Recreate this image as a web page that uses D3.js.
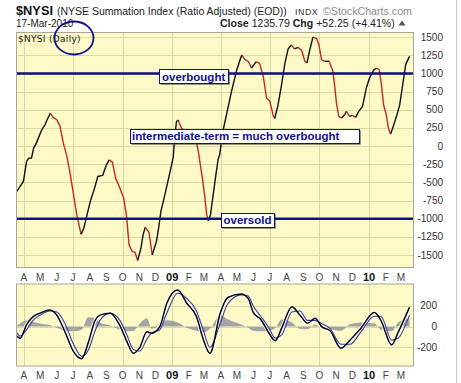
<!DOCTYPE html>
<html><head><meta charset="utf-8">
<script src="https://cdn.jsdelivr.net/npm/d3@7/dist/d3.min.js"></script>
<style>
html,body{margin:0;padding:0;background:#fff;}
svg{display:block;font-family:"Liberation Sans",Arial,sans-serif;}
</style></head>
<body>
<svg id="c" width="461" height="383"></svg>
<script>
// ---------- DATA ----------
const mainDates = ["2008-03-19","2008-03-31","2008-04-06","2008-04-10","2008-04-15","2008-04-19","2008-04-24","2008-05-04","2008-05-10","2008-05-14","2008-05-20","2008-05-25","2008-06-01","2008-06-07","2008-06-13","2008-06-19","2008-06-25","2008-07-01","2008-07-08","2008-07-16","2008-07-21","2008-07-27","2008-08-02","2008-08-10","2008-08-16","2008-08-25","2008-09-01","2008-09-06","2008-09-12","2008-09-18","2008-09-26","2008-10-03","2008-10-08","2008-10-13","2008-10-19","2008-10-24","2008-10-29","2008-11-04","2008-11-08","2008-11-12","2008-11-19","2008-11-25","2008-12-03","2008-12-07","2008-12-11","2008-12-19","2008-12-26","2009-01-03","2009-01-06","2009-01-09","2009-01-12","2009-01-14","2009-01-18","2009-01-26","2009-02-05","2009-02-15","2009-02-19","2009-02-22","2009-02-26","2009-03-02","2009-03-06","2009-03-09","2009-03-13","2009-03-18","2009-03-23","2009-03-27","2009-03-30","2009-04-05","2009-04-13","2009-04-21","2009-04-30","2009-05-06","2009-05-10","2009-05-16","2009-05-22","2009-05-28","2009-06-06","2009-06-12","2009-06-19","2009-06-25","2009-07-01","2009-07-07","2009-07-10","2009-07-16","2009-07-23","2009-07-29","2009-08-04","2009-08-10","2009-08-16","2009-08-22","2009-08-29","2009-09-04","2009-09-08","2009-09-13","2009-09-19","2009-09-26","2009-09-30","2009-10-05","2009-10-11","2009-10-19","2009-10-26","2009-10-29","2009-11-02","2009-11-06","2009-11-11","2009-11-17","2009-11-20","2009-11-26","2009-12-01","2009-12-07","2009-12-13","2009-12-20","2009-12-27","2010-01-02","2010-01-10","2010-01-15","2010-01-20","2010-01-24","2010-01-28","2010-02-02","2010-02-06","2010-02-10","2010-02-14","2010-02-21","2010-02-27","2010-03-05","2010-03-10","2010-03-17"];
const mainValues = [-625,-487,-211,-166,-166,-28,41,225,294,363,455,396,363,271,41,-120,-349,-625,-948,-1214,-1131,-948,-763,-579,-418,-404,-258,-189,-221,-441,-579,-717,-948,-1361,-1453,-1462,-1575,-1407,-1223,-1117,-1190,-1500,-1306,-1120,-900,-650,-420,-150,150,340,359,320,248,200,130,60,-100,-250,-441,-671,-948,-1030,-948,-671,-396,-189,-120,202,478,754,1030,1168,1255,1191,1168,1075,1163,1140,956,658,620,428,380,555,855,1140,1338,1395,1338,1360,1320,1168,1145,1320,1500,1480,1398,1191,1168,1168,1030,846,570,410,386,432,478,410,423,396,478,547,800,938,1052,1076,1052,846,570,432,248,166,248,410,570,869,1122,1236];

const oscDates = ["2008-03-19","2008-03-25","2008-04-06","2008-04-18","2008-05-01","2008-05-19","2008-06-01","2008-06-16","2008-07-02","2008-07-17","2008-07-29","2008-08-11","2008-08-20","2008-09-08","2008-09-26","2008-10-09","2008-10-21","2008-11-02","2008-11-15","2008-11-24","2008-12-09","2008-12-22","2009-01-11","2009-01-28","2009-02-15","2009-02-28","2009-03-12","2009-03-31","2009-04-14","2009-05-09","2009-05-22","2009-05-31","2009-06-15","2009-06-28","2009-07-11","2009-07-23","2009-08-11","2009-08-26","2009-09-09","2009-09-23","2009-10-05","2009-10-21","2009-11-10","2009-11-27","2009-12-17","2010-01-11","2010-01-23","2010-02-12","2010-02-24","2010-03-17"];
const macdValues = [-90,-112,20,96,130,160,110,-50,-240,-308,-160,60,110,129,10,-144,-256,-200,-50,-63,0,225,353,225,96,-128,-256,129,280,314,270,140,64,-50,-135,-15,192,110,33,81,0,-40,-208,-128,-15,135,60,-176,-55,185];
const signalValues = [-60,-90,-30,60,110,150,140,30,-170,-285,-230,-40,60,130,60,-80,-220,-235,-120,-60,-30,130,320,270,150,-40,-200,30,220,305,295,200,95,0,-110,-80,140,150,60,60,30,-20,-170,-170,-50,100,100,-130,-110,110];
const histValues = [10,30,60,45,30,15,-10,-40,-45,-30,90,80,40,10,-30,-45,-40,30,80,-20,10,60,40,-10,-40,-55,-20,110,70,20,-10,-40,-45,-40,-15,70,40,-20,-25,20,-10,-25,-40,25,40,30,-30,-45,40,80];

const mainTicks = [1500,1250,1000,750,500,250,0,-250,-500,-750,-1000,-1250,-1500];
const oscTicks = [200,0,-200];
const monthLabels = ["A","M","J","J","A","S","O","N","D","09","F","M","A","M","J","J","A","S","O","N","D","10","F","M"];
const monthStarts = ["2008-04-01","2008-05-01","2008-06-01","2008-07-01","2008-08-01","2008-09-01","2008-10-01","2008-11-01","2008-12-01","2009-01-01","2009-02-01","2009-03-01","2009-04-01","2009-05-01","2009-06-01","2009-07-01","2009-08-01","2009-09-01","2009-10-01","2009-11-01","2009-12-01","2010-01-01","2010-02-01","2010-03-01"];
const gridDates = ["2008-04-01","2008-07-01","2008-10-01","2009-01-01","2009-04-01","2009-07-01","2009-10-01","2010-01-01"];
const levels = [1000,-1000];

// ---------- SETUP ----------
const parse = d3.timeParse("%Y-%m-%d");
const svg = d3.select("#c");
const navy = "#10108a";
const bg = "#fdfac8";
const gridC = "#dcd8a8";

const P = {l:16, r:414, t:32, b:268};
const Q = {l:16, r:414, t:283.5, b:366.5};

const x = d3.scaleTime().domain([new Date(2008,6,1), new Date(2010,0,1)]).range([73,369]);
const y = d3.scaleLinear().domain([-1500,1500]).range([255,37.2]);
const y2 = d3.scaleLinear().domain([-200,200]).range([347.4,305.8]);

const defs = svg.append("defs");
defs.append("clipPath").attr("id","cp1").append("rect").attr("x",P.l).attr("y",P.t).attr("width",P.r-P.l).attr("height",P.b-P.t);
defs.append("clipPath").attr("id","cp2").append("rect").attr("x",Q.l).attr("y",Q.t).attr("width",Q.r-Q.l).attr("height",Q.b-Q.t);

// fit a text's font size so its natural width equals target
function fit(sel, target){
  const fs = parseFloat(sel.attr("font-size"));
  const w = sel.node().getComputedTextLength();
  if (w > 0) sel.attr("font-size", (fs*target/w).toFixed(2));
  return sel;
}

// ---------- HEADER ----------
fit(svg.append("text").attr("x",16).attr("y",15).attr("font-weight","bold").attr("font-size",14)
  .attr("fill","#111").text("$NYSI"), 37);
fit(svg.append("text").attr("x",57).attr("y",15).attr("font-size",11).attr("fill","#222")
  .text("(NYSE Summation Index (Ratio Adjusted) (EOD))"), 230);
fit(svg.append("text").attr("x",295).attr("y",15).attr("font-size",10).attr("fill","#333")
  .attr("letter-spacing","0.5").text("INDX"), 23);
fit(svg.append("text").attr("x",323).attr("y",15).attr("font-size",10.5).attr("fill","#8a8a8a")
  .text("©StockCharts.com"), 89);
svg.append("text").attr("x",16).attr("y",27).attr("font-size",10).attr("fill","#222").text("17-Mar-2010");
const h2 = svg.append("text").attr("x",220).attr("y",27).attr("font-size",11).attr("fill","#222");
h2.append("tspan").attr("font-weight","bold").text("Close ");
h2.append("tspan").text("1235.79 ");
h2.append("tspan").attr("font-weight","bold").text("Chg ");
h2.append("tspan").text("+52.25 (+4.41%)");
fit(h2, 175);
svg.append("path").attr("d","M398.5,25.5 L402,20.5 L405.5,25.5 Z").attr("fill","#555");

// ---------- MAIN PANEL ----------
svg.append("rect").attr("x",P.l).attr("y",P.t).attr("width",P.r-P.l).attr("height",P.b-P.t).attr("fill",bg);
const g1 = svg.append("g").attr("clip-path","url(#cp1)");
g1.selectAll("line.hg").data(mainTicks).join("line").attr("class","hg")
  .attr("x1",P.l).attr("x2",P.r).attr("y1",d=>Math.round(y(d))+0.5).attr("y2",d=>Math.round(y(d))+0.5)
  .attr("stroke",gridC).attr("stroke-width",1);
g1.selectAll("line.vg").data(gridDates).join("line").attr("class","vg")
  .attr("x1",d=>Math.round(x(parse(d)))+0.5).attr("x2",d=>Math.round(x(parse(d)))+0.5).attr("y1",P.t).attr("y2",P.b)
  .attr("stroke",gridC).attr("stroke-width",1);

// level lines
svg.selectAll("line.lvl").data(levels).join("line").attr("class","lvl")
  .attr("x1",P.l).attr("x2",P.r).attr("y1",d=>y(d)).attr("y2",d=>y(d))
  .attr("stroke",navy).attr("stroke-width",2.4);

// main line coloured by direction
const pts = mainDates.map((d,i)=>({t:parse(d), v:mainValues[i]}));
const runs = [];
for (let i=1;i<pts.length;i++){
  const up = pts[i].v >= pts[i-1].v;
  if (!runs.length || runs[runs.length-1].up !== up) runs.push({up, pts:[pts[i-1]]});
  runs[runs.length-1].pts.push(pts[i]);
}
const line1 = d3.line().x(d=>x(d.t)).y(d=>y(d.v));
g1.selectAll("path.m").data(runs).join("path").attr("class","m")
  .attr("d",d=>line1(d.pts)).attr("fill","none")
  .attr("stroke",d=>d.up?"#111":"#c0282d").attr("stroke-width",1.4).attr("stroke-linejoin","round");

svg.append("rect").attr("x",P.l+0.5).attr("y",P.t+0.5).attr("width",P.r-P.l-1).attr("height",P.b-P.t-1).attr("fill","none").attr("stroke","#a8a8a0");

// in-panel label and circle
svg.append("text").attr("x",18).attr("y",42).attr("font-family","'DejaVu Sans',Verdana,sans-serif").attr("font-size",9).attr("fill","#222").attr("letter-spacing","0.3").text("$NYSI (Daily)");
svg.append("ellipse").attr("cx",74).attr("cy",38).attr("rx",19.5).attr("ry",16.5).attr("fill","none").attr("stroke",navy).attr("stroke-width",1.8);

// annotation boxes
function box(x0,y0,x1,y1,tx,ty,txt){
  svg.append("rect").attr("x",x0+1.5).attr("y",y0+1.5).attr("width",x1-x0).attr("height",y1-y0).attr("fill","#333");
  svg.append("rect").attr("x",x0+0.5).attr("y",y0+0.5).attr("width",x1-x0).attr("height",y1-y0).attr("fill","#fff").attr("stroke",navy).attr("stroke-width",1);
  svg.append("text").attr("x",tx).attr("y",ty).attr("font-size",11.5).attr("font-weight","bold").attr("fill",navy).text(txt);
}
box(159,69,228,83,162,80.5,"overbought");
box(130,129,359,143,132,140,"intermediate-term = much overbought");
box(221,213,274,227,223.5,224,"oversold");

// y labels main
svg.selectAll("text.yl").data(mainTicks).join("text").attr("class","yl")
  .attr("x",443).attr("y",d=>y(d)+3.5).attr("text-anchor","end").attr("font-size",10).attr("fill","#333").text(d=>d);

// month labels
function months(yy){
  svg.append("g").selectAll("text").data(monthStarts).join("text")
    .attr("x",d=>x(parse(d))).attr("y",yy).attr("text-anchor","middle")
    .attr("font-size",(d,i)=>/\d/.test(monthLabels[i])?11:10)
    .attr("font-weight",(d,i)=>/\d/.test(monthLabels[i])?"bold":"normal")
    .attr("fill",(d,i)=>/\d/.test(monthLabels[i])?"#111":"#444")
    .text((d,i)=>monthLabels[i]);
}
months(281);
months(379);

// ---------- LOWER PANEL ----------
svg.append("rect").attr("x",Q.l).attr("y",Q.t).attr("width",Q.r-Q.l).attr("height",Q.b-Q.t).attr("fill",bg);
const g2 = svg.append("g").attr("clip-path","url(#cp2)");
g2.selectAll("line.hg").data(oscTicks).join("line").attr("class","hg")
  .attr("x1",Q.l).attr("x2",Q.r).attr("y1",d=>Math.round(y2(d))+0.5).attr("y2",d=>Math.round(y2(d))+0.5)
  .attr("stroke",gridC);
g2.selectAll("line.vg").data(gridDates).join("line").attr("class","vg")
  .attr("x1",d=>Math.round(x(parse(d)))+0.5).attr("x2",d=>Math.round(x(parse(d)))+0.5).attr("y1",Q.t).attr("y2",Q.b)
  .attr("stroke",gridC);
const osc = oscDates.map((d,i)=>({t:parse(d), m:macdValues[i], s:signalValues[i], h:histValues[i]}));
g2.append("path").datum(osc).attr("fill","#a4a4a4")
  .attr("d",d3.area().curve(d3.curveMonotoneX).x(d=>x(d.t)).y0(y2(0)).y1(d=>y2(d.h)));
g2.append("path").datum(osc).attr("fill","none").attr("stroke","#fff").attr("stroke-width",3.4)
  .attr("d",d3.line().curve(d3.curveMonotoneX).x(d=>x(d.t)).y(d=>y2(d.m)));
g2.append("path").datum(osc).attr("fill","none").attr("stroke","#3a3aa8").attr("stroke-width",1.1)
  .attr("d",d3.line().curve(d3.curveMonotoneX).x(d=>x(d.t)).y(d=>y2(d.s)));
g2.append("path").datum(osc).attr("fill","none").attr("stroke","#000").attr("stroke-width",1.5)
  .attr("d",d3.line().curve(d3.curveMonotoneX).x(d=>x(d.t)).y(d=>y2(d.m)));
svg.append("rect").attr("x",Q.l+0.5).attr("y",Q.t+0.5).attr("width",Q.r-Q.l-1).attr("height",Q.b-Q.t-1).attr("fill","none").attr("stroke","#a8a8a0");
svg.selectAll("text.y2").data(oscTicks).join("text").attr("class","y2")
  .attr("x",437).attr("y",d=>y2(d)+3.5).attr("text-anchor","end").attr("font-size",10).attr("fill","#333").text(d=>d);

// outer right frame line
svg.append("line").attr("x1",456.5).attr("x2",456.5).attr("y1",0).attr("y2",383).attr("stroke","#ccc");
</script>
</body></html>
